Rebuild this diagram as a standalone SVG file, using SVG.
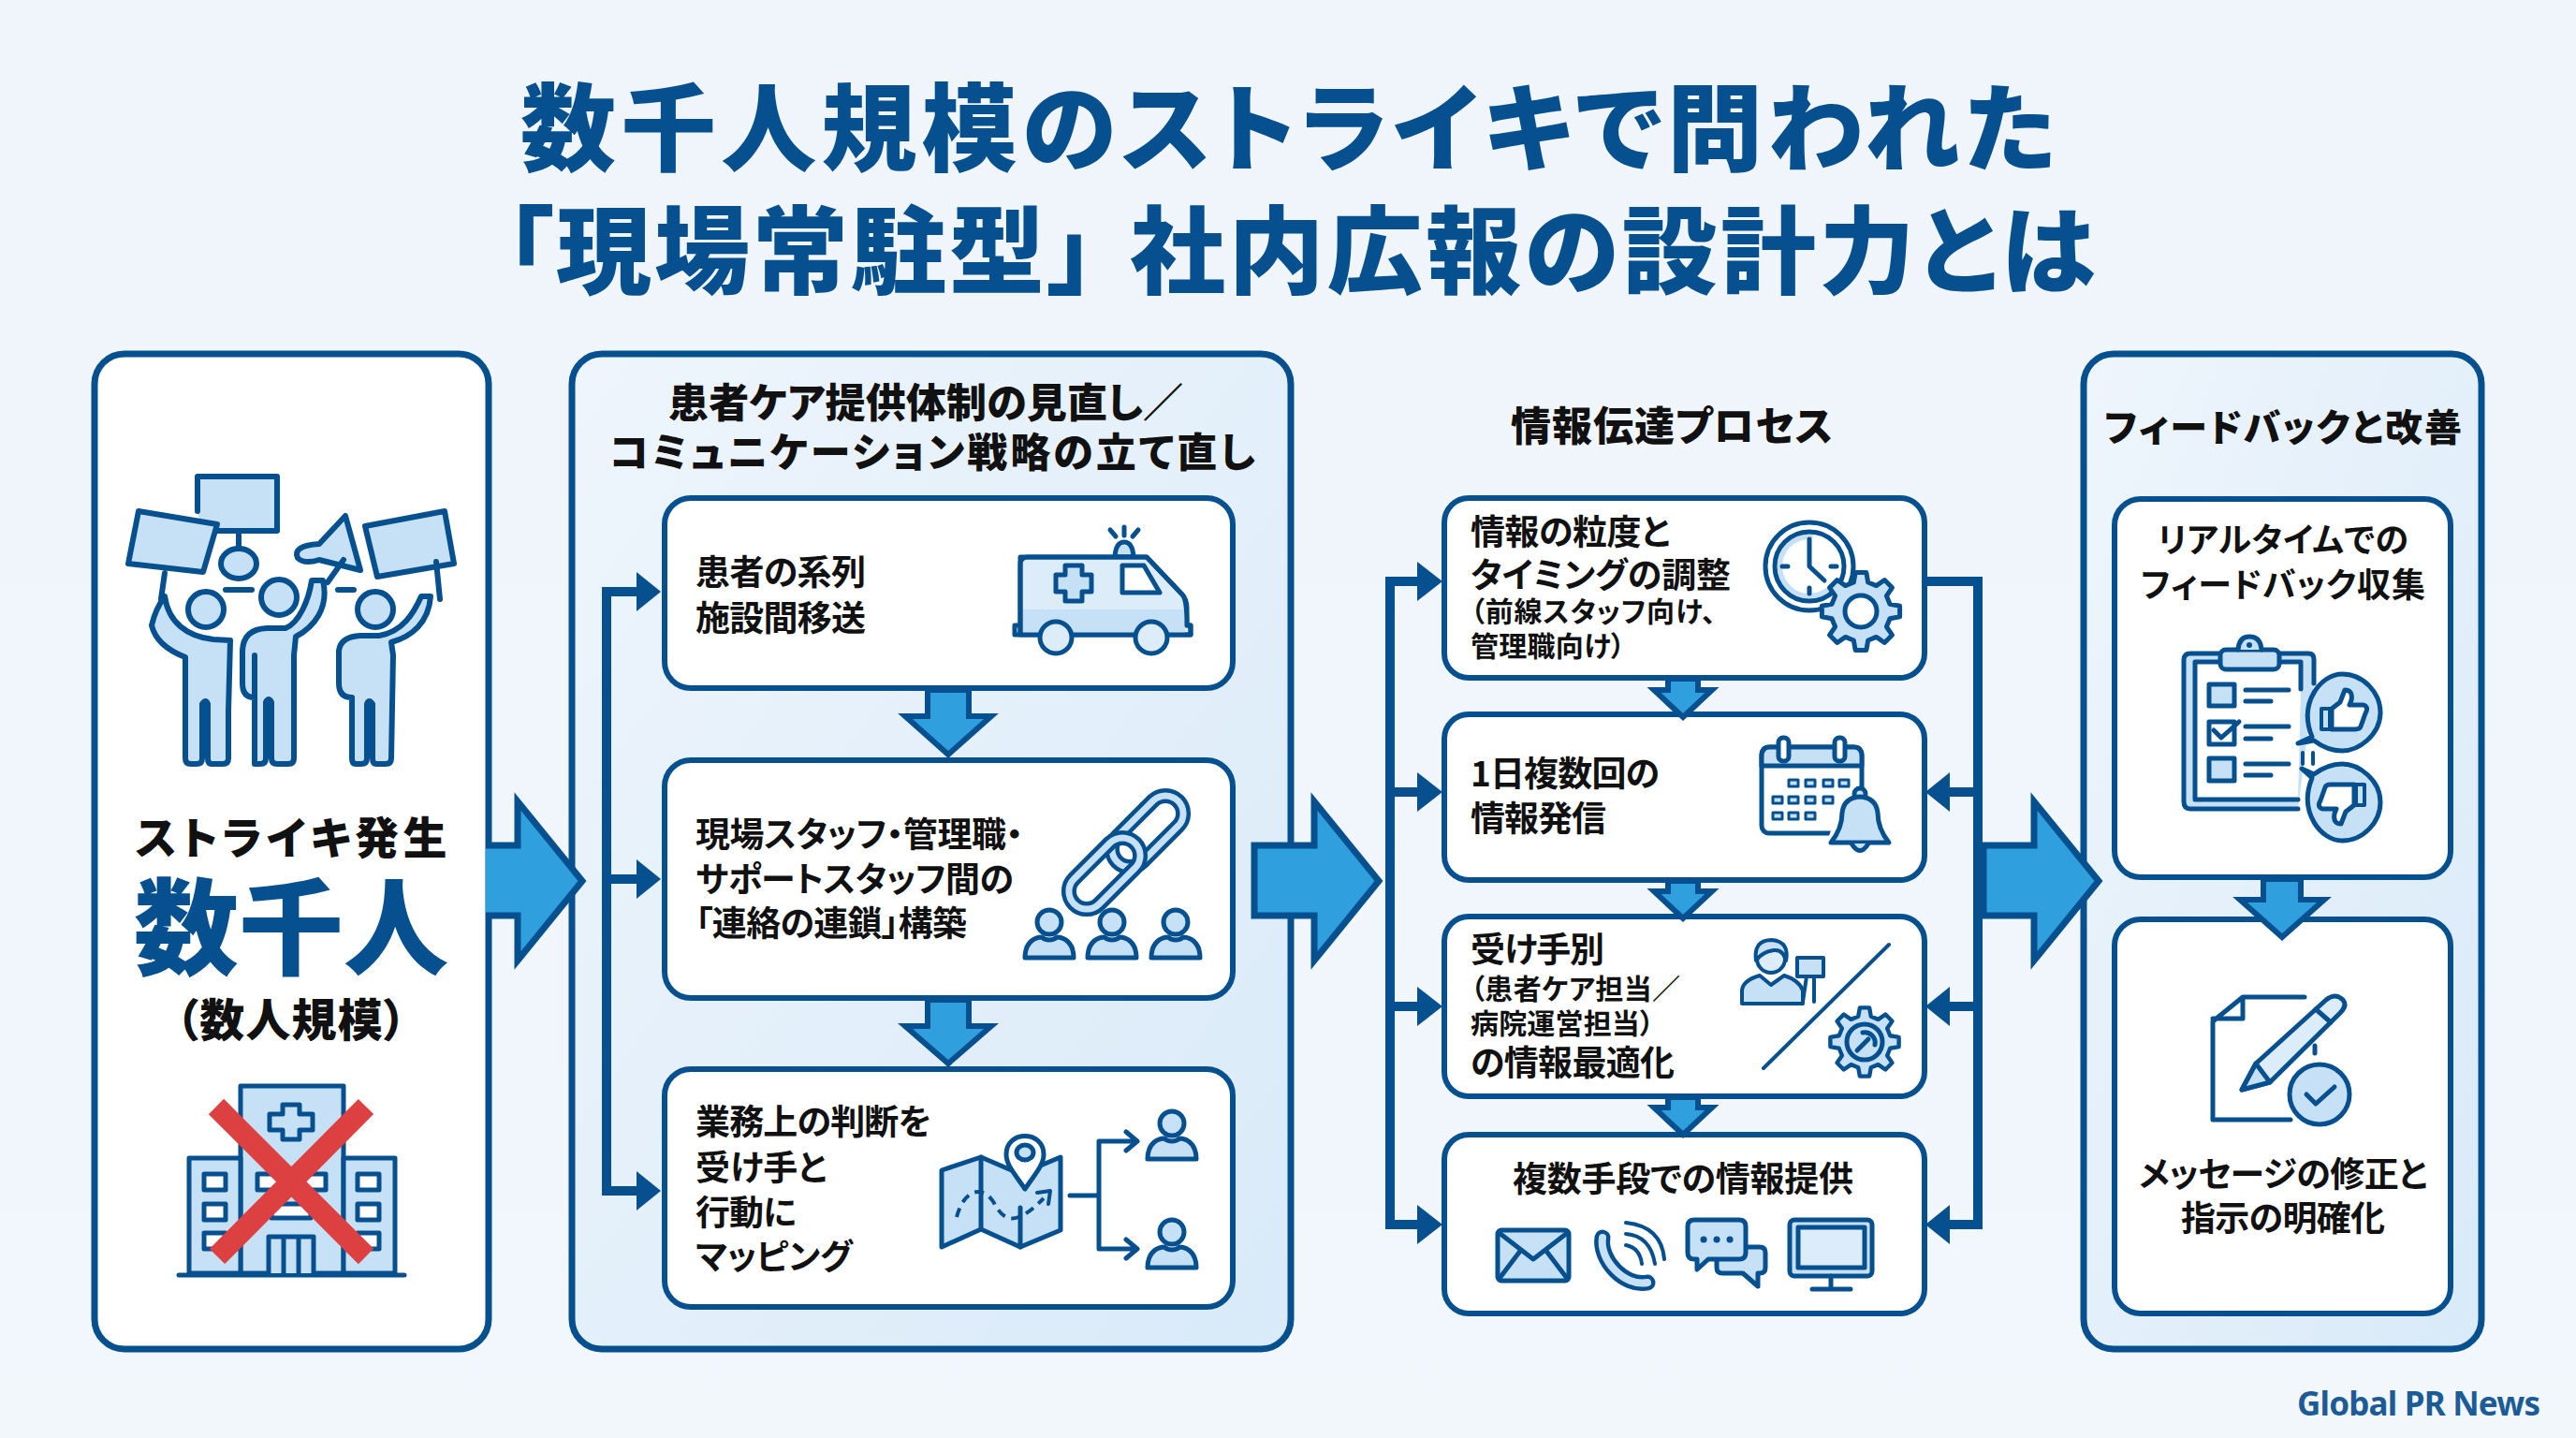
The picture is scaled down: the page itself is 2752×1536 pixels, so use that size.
<svg xmlns="http://www.w3.org/2000/svg" xmlns:xlink="http://www.w3.org/1999/xlink" width="2752" height="1536" viewBox="0 0 2752 1536">
<style>
text{font-family:"Noto Sans CJK JP","Noto Sans",sans-serif;font-weight:700;fill:#111;font-feature-settings:"palt"}
.title{font-size:102px;font-weight:900;fill:#07508f}
.head{font-size:43px;font-weight:900;text-anchor:middle}
.t{font-size:37px}
.s{font-size:30px}
.c{text-anchor:middle}
.panel{stroke:#07508f;stroke-width:7}
.box{fill:#fff;stroke:#07508f;stroke-width:6}
.i{fill:#c6e1f6;stroke:#07508f;stroke-width:5;stroke-linejoin:round;stroke-linecap:round}
.l{fill:none;stroke:#07508f;stroke-width:5;stroke-linejoin:round;stroke-linecap:round}
.w{fill:#fff;stroke:#07508f;stroke-width:5;stroke-linejoin:round}
.d{fill:#07508f;stroke:none}
.big{fill:#2f9fdd;stroke:#07508f;stroke-width:7;stroke-linejoin:miter}
.mini{fill:#2f9fdd;stroke:#07508f;stroke-width:6;stroke-linejoin:miter}
.bus{fill:none;stroke:#07508f;stroke-width:10;stroke-linejoin:miter}
#icon-protest .i,#icon-protest .l{stroke-width:6}
</style>
<defs>
<linearGradient id="bg" x1="0" y1="0" x2="0" y2="1"><stop offset="0" stop-color="#f0f5fb"/><stop offset="1" stop-color="#f2f7fc"/></linearGradient>
<linearGradient id="pf" x1="0" y1="0" x2="1" y2="1"><stop offset="0" stop-color="#eef5fc"/><stop offset="1" stop-color="#d9eaf8"/></linearGradient>
<path id="gear" d="M31,-7.7L41.6,-5.8L41.6,5.8L31,7.7L27.4,16.5L33.5,25.3L25.3,33.5L16.5,27.4L7.7,31L5.8,41.6L-5.8,41.6L-7.7,31L-16.5,27.4L-25.3,33.5L-33.5,25.3L-27.4,16.5L-31,7.7L-41.6,5.8L-41.6,-5.8L-31,-7.7L-27.4,-16.5L-33.5,-25.3L-25.3,-33.5L-16.5,-27.4L-7.7,-31L-5.8,-41.6L5.8,-41.6L7.7,-31L16.5,-27.4L25.3,-33.5L33.5,-25.3L27.4,-16.5Z"/>
<g id="user"><circle cx="0" cy="-14" r="13" class="i"/><path class="i" d="M-26,24C-26,6 -14,2 -8,2C-4,6 4,6 8,2C14,2 26,6 26,24Z"/></g>
<path id="thumb" d="M2491,757L2500,750L2505,737Q2514,737 2512,748L2510,753L2525,753Q2531,755 2527,762L2522,776Q2521,779 2516,779L2491,779Z"/>
</defs>
<rect width="2752" height="1536" fill="url(#bg)"/>
<g id="title">
<text class="title" x="556" y="175" textLength="1640">数千人規模のストライキで問われた</text>
<text class="title" y="306"><tspan x="540" textLength="630">「現場常駐型」</tspan><tspan x="1207" textLength="1031">社内広報の設計力とは</tspan></text>
</g>

<g id="panel-strike">
<rect class="panel" x="101" y="378" width="421" height="1063" rx="32" fill="#fff"/>
<g id="icon-protest">
<path class="i" d="M211,546V509H296V567H215"/>
<path class="i" d="M148,546L232,560L217,611L137,602Z"/>
<path class="i" d="M390,562L475,546L485,602L403,616Z"/>
<path class="l" d="M255,567V583"/>
<ellipse class="i" cx="255" cy="602" rx="19" ry="16"/>
<path class="l" d="M241,630H269M361,630H378"/>
<path class="i" d="M341,581L369,551L385,609L341,598Q325,603 318,596Q312,583 341,581Z"/>
<path class="l" d="M176,612L172,640M367,598L350,622M466,600L470,640"/>
<circle class="i" cx="220" cy="651" r="19"/>
<circle class="i" cx="298" cy="638" r="19"/>
<circle class="i" cx="401" cy="651" r="19"/>
<path class="i" d="M176,637C180,665 200,680 228,683L246,684L244,760V810Q244,816 238,816H226Q222,816 222,810V752Q220,746 216,752V810Q216,816 210,816H204Q198,816 198,810V702C180,695 166,685 162,668C165,655 170,645 176,637Z"/>
<path class="i" d="M345,620C352,650 335,670 316,680L314,700V810Q314,816 308,816H296Q290,816 290,810V750Q287,744 284,750V810Q284,816 278,816H272Q272,816 272,810V700L272,745Q259,745 259,730V695Q260,672 285,671L305,671C320,665 330,640 333,620Z"/>
<path class="i" d="M460,637C458,665 440,680 418,686L420,700L418,810Q418,816 412,816H402Q398,816 398,810V752Q394,746 392,752V810Q392,816 386,816H380Q376,816 376,810V745Q362,745 362,730V695Q364,680 385,679L405,679C430,675 442,655 450,637Z"/>
</g>
<text class="c" x="311" y="912" font-size="47" textLength="333" style="font-weight:900">ストライキ発生</text>
<text class="c" x="311" y="1033" font-size="112" textLength="336" style="font-weight:900;fill:#07508f">数千人</text>
<text class="c" x="311" y="1107" font-size="48" textLength="246" style="font-weight:900">（数人規模）</text>
<g id="icon-hospital">
<rect class="i" x="257" y="1160" width="110" height="200"/>
<rect class="i" x="202" y="1237" width="55" height="123"/>
<rect class="i" x="367" y="1237" width="55" height="123"/>
<path class="l" d="M191,1362H432"/>
<path class="w" style="fill:#c6e1f6" d="M302,1180H320V1190H334V1207H320V1217H302V1207H288V1190H302Z"/>
<g class="w" style="fill:#fff"><rect x="218" y="1254" width="23" height="17"/><rect x="218" y="1286" width="23" height="17"/><rect x="218" y="1317" width="23" height="17"/><rect x="382" y="1254" width="23" height="17"/><rect x="382" y="1286" width="23" height="17"/><rect x="382" y="1317" width="23" height="17"/><rect x="275" y="1254" width="30" height="17"/><rect x="318" y="1254" width="30" height="17"/><rect x="290" y="1286" width="42" height="15"/></g>
<path class="i" d="M287,1360V1321H335V1360M303,1321V1360M319,1321V1360"/>
<path d="M231,1182L391,1342M391,1182L232,1342" fill="none" stroke="#dd4040" stroke-width="23"/>
</g>
</g>

<g id="panel-care">
<rect class="panel" x="611" y="378" width="768" height="1063" rx="32" fill="url(#pf)"/>
<text class="head" x="989" y="446" textLength="550">患者ケア提供体制の見直し／</text>
<text class="head" x="996" y="499" textLength="690">コミュニケーション戦略の立て直し</text>
<g id="box-transfer"><rect class="box" x="710" y="532" width="607" height="203" rx="28"/>
<text class="t" x="743" y="625" textLength="182">患者の系列</text>
<text class="t" x="743" y="674" textLength="182">施設間移送</text>
<g id="icon-ambulance">
<path class="l" d="M1201,563V572M1186,566L1192,573M1216,566L1210,573"/>
<path class="i" d="M1191,595Q1192,579 1201,579Q1210,579 1211,595Z"/>
<path class="i" style="fill:#dcecf9" d="M1090,678V603Q1090,595 1098,595H1225L1263,635Q1268,640 1268,650V668H1272V678Z"/>
<path d="M1093,651H1266V676H1093Z" fill="#c6e1f6"/>
<path class="l" d="M1090,678H1084V668H1090M1090,595H1225L1263,635Q1268,640 1268,668H1272V678H1090V595"/>
<path class="w" d="M1199,604H1222L1239,633H1199Z"/>
<path class="i" d="M1138,604H1156V614H1166V632H1156V642H1138V632H1128V614H1138Z"/>
<circle class="i" cx="1128" cy="681" r="17" style="fill:#dcecf9"/><circle class="i" cx="1230" cy="681" r="17" style="fill:#dcecf9"/>
</g></g>
<g id="box-chain"><rect class="box" x="710" y="812" width="607" height="254" rx="28"/>
<text class="t" x="743" y="905" textLength="350">現場スタッフ・管理職・</text>
<text class="t" x="743" y="953" textLength="340">サポートスタッフ間の</text>
<text class="t" x="743" y="1000" textLength="290">「連絡の連鎖」構築</text>
<g id="icon-chain" fill="none">
<g transform="rotate(-45 1226 888)"><rect x="1180" y="869" width="92" height="38" rx="19" stroke="#07508f" stroke-width="16"/><rect x="1180" y="869" width="92" height="38" rx="19" stroke="#c6e1f6" stroke-width="7"/></g>
<g transform="rotate(-45 1180 933)"><rect x="1134" y="914" width="92" height="38" rx="19" stroke="#07508f" stroke-width="16"/><rect x="1134" y="914" width="92" height="38" rx="19" stroke="#c6e1f6" stroke-width="7"/></g>
</g>
<use xlink:href="#user" href="#user" x="1121" y="999"/><use xlink:href="#user" href="#user" x="1188" y="999"/><use xlink:href="#user" href="#user" x="1256" y="999"/>
</g>
<g id="box-map"><rect class="box" x="710" y="1142" width="607" height="254" rx="28"/>
<text class="t" x="743" y="1212" textLength="252">業務上の判断を</text>
<text class="t" x="743" y="1261" textLength="140">受け手と</text>
<text class="t" x="743" y="1309" textLength="108">行動に</text>
<text class="t" x="743" y="1356" textLength="168">マッピング</text>
<g id="icon-map">
<path class="i" d="M1006,1250L1048,1236L1090,1254L1133,1236V1314L1090,1332L1048,1313L1006,1332Z"/>
<path class="l" d="M1048,1236V1313M1090,1290V1332"/>
<path d="M1022,1300C1030,1270 1050,1265 1062,1285C1075,1310 1090,1305 1115,1280" fill="none" stroke="#07508f" stroke-width="4" stroke-dasharray="10 7"/>
<path class="l" d="M1108,1274L1122,1272L1120,1286" style="stroke-width:4"/>
<path class="i" d="M1095,1270C1085,1255 1075,1245 1075,1233C1075,1207 1115,1207 1115,1233C1115,1245 1105,1255 1095,1270Z" style="fill:#fff"/>
<ellipse class="i" cx="1095" cy="1231" rx="9" ry="8"/>
<path class="l" d="M1143,1277H1174M1215,1219H1174V1334H1215M1203,1209L1215,1219L1203,1229M1203,1324L1215,1334L1203,1344"/>
<use xlink:href="#user" href="#user" x="1252" y="1214"/><use xlink:href="#user" href="#user" x="1252" y="1330"/>
</g></g>
</g>

<g id="panel-process">
<text class="head" x="1786" y="471" textLength="344">情報伝達プロセス</text>
<g id="box-timing"><rect class="box" x="1543" y="532" width="513" height="192" rx="26"/>
<text class="t" x="1571" y="582" textLength="213">情報の粒度と</text>
<text class="t" x="1571" y="628" textLength="278">タイミングの調整</text>
<text class="s" x="1571" y="664" textLength="262">（前線スタッフ向け、</text>
<text class="s" x="1571" y="701" textLength="165">管理職向け）</text>
<g id="icon-clock">
<circle class="l" cx="1933" cy="605" r="47" style="fill:#fff"/><path class="l" d="M1933,572A33,33 0 1 0 1960,624" style="stroke:#c6e1f6;stroke-width:8"/><circle class="l" cx="1933" cy="605" r="37"/>
<path class="l" d="M1933,576V582M1933,628V634M1904,605H1910M1956,605H1962M1933,582V605L1949,620"/>
<use xlink:href="#gear" href="#gear" x="1988" y="653" class="i" style="stroke-width:5"/><circle class="w" cx="1988" cy="653" r="17"/>
</g></g>
<g id="box-daily"><rect class="box" x="1543" y="763" width="513" height="177" rx="26"/>
<text class="t" x="1571" y="840" textLength="202">1日複数回の</text>
<text class="t" x="1571" y="888" textLength="145">情報発信</text>
<g id="icon-calendar">
<rect class="l" x="1882" y="798" width="107" height="92" rx="8" style="fill:#fff"/>
<path class="i" d="M1882,808Q1882,798 1890,798H1981Q1989,798 1989,808V818H1882Z"/>
<rect class="w" x="1900" y="788" width="11" height="25" rx="5"/><rect class="w" x="1960" y="788" width="11" height="25" rx="5"/>
<g class="i" style="stroke-width:3"><rect x="1911" y="833" width="10" height="7"/><rect x="1929" y="833" width="10" height="7"/><rect x="1948" y="833" width="10" height="7"/><rect x="1965" y="833" width="10" height="7"/><rect x="1894" y="851" width="10" height="7"/><rect x="1911" y="851" width="10" height="7"/><rect x="1929" y="851" width="10" height="7"/><rect x="1948" y="851" width="10" height="7"/><rect x="1894" y="868" width="10" height="7"/><rect x="1911" y="868" width="10" height="7"/><rect x="1929" y="868" width="10" height="7"/></g>
<path d="M1950,905L1965,860Q1985,835 2010,860L2025,905Z" fill="#fff"/>
<circle class="i" cx="1987" cy="848" r="6"/>
<path class="i" d="M1956,900Q1968,885 1968,868Q1970,852 1987,851Q2004,852 2006,868Q2006,885 2018,900Z"/>
<path class="i" d="M1978,901Q1987,916 1996,901"/>
</g></g>
<g id="box-audience"><rect class="box" x="1543" y="979" width="513" height="192" rx="26"/>
<text class="t" x="1571" y="1028" textLength="143">受け手別</text>
<text class="s" x="1571" y="1067" textLength="224">（患者ケア担当／</text>
<text class="s" x="1571" y="1104" textLength="196">病院運営担当）</text>
<text class="t" x="1571" y="1149" textLength="218">の情報最適化</text>
<g id="icon-staff">
<path class="i" d="M1861,1072V1058Q1862,1047 1880,1042L1892,1052L1906,1042Q1922,1047 1926,1058V1072Z" style="stroke-width:4"/>
<circle class="i" cx="1892" cy="1024" r="15" style="fill:#dcecf9;stroke-width:4"/>
<path class="i" style="stroke-width:4" d="M1876,1026Q1873,1004 1893,1004Q1912,1006 1908,1026Q1905,1014 1895,1015Q1882,1017 1876,1026Z"/>
<rect class="i" x="1920" y="1023" width="28" height="20" style="stroke-width:4"/><path class="l" d="M1930,1043L1926,1070M1938,1043V1070" style="stroke-width:4"/>
<path class="l" d="M2018,1009L1884,1141" style="stroke-width:4"/>
<use xlink:href="#gear" href="#gear" transform="translate(1992 1113) scale(.88)" class="i" style="stroke-width:5"/>
<circle class="l" cx="1992" cy="1113" r="19"/>
<path class="l" d="M1984,1122L1996,1110M1990,1103A11,11 0 0 1 2003,1116" style="stroke-width:5"/>
</g></g>
<g id="box-channels"><rect class="box" x="1543" y="1212" width="513" height="191" rx="26"/>
<text class="t c" x="1798" y="1273" textLength="364">複数手段での情報提供</text>
<g id="icon-mail"><rect class="i" x="1600" y="1314" width="76" height="54" rx="4"/><path class="l" d="M1603,1318L1638,1345L1673,1318M1603,1364L1625,1335M1673,1364L1651,1335"/></g>
<g id="icon-phone" fill="none"><path d="M1712,1322C1708,1345 1735,1375 1760,1370" stroke="#07508f" stroke-width="17" stroke-linecap="round"/><path d="M1712,1322C1708,1345 1735,1375 1760,1370" stroke="#c6e1f6" stroke-width="8" stroke-linecap="round"/><path class="l" d="M1737,1330Q1752,1333 1754,1350M1737,1318Q1763,1320 1768,1350M1737,1306Q1775,1310 1778,1345" style="stroke-width:4"/></g>
<g id="icon-chat"><path class="i" d="M1850,1332H1880Q1886,1332 1886,1338V1354Q1886,1360 1880,1360H1878V1374L1862,1360H1840Q1834,1360 1834,1354V1345Z"/><path class="i" d="M1810,1303H1858Q1865,1303 1865,1310V1338Q1865,1345 1858,1345H1825L1813,1356V1345H1810Q1803,1345 1803,1338V1310Q1803,1303 1810,1303Z"/><path d="M1820,1324h.1M1834,1324h.1M1848,1324h.1" stroke="#07508f" stroke-width="7" stroke-linecap="round"/></g>
<g id="icon-monitor"><rect class="i" x="1912" y="1303" width="88" height="60" rx="5"/><rect class="l" x="1921" y="1311" width="71" height="43" style="fill:#dcecf9"/><path class="l" d="M1956,1363V1376M1936,1377H1977"/></g>
</g>
</g>

<g id="panel-feedback">
<rect class="panel" x="2226" y="378" width="425" height="1063" rx="32" fill="url(#pf)"/>
<text class="head" x="2439" y="471" style="font-size:40px" textLength="382">フィードバックと改善</text>
<g id="box-collect"><rect class="box" x="2259" y="533" width="359" height="404" rx="28"/>
<text class="t c" x="2439" y="590" style="font-size:36px" textLength="268">リアルタイムでの</text>
<text class="t c" x="2439" y="638" style="font-size:36px" textLength="304">フィードバック収集</text>
<g id="icon-clipboard">
<path class="i" d="M2472,730V704Q2472,698 2466,698H2340Q2333,698 2333,705V856Q2333,864 2340,864H2455"/>
<path class="l" d="M2458,736V707H2345V854H2455" style="fill:#fff"/>
<rect class="i" x="2372" y="694" width="63" height="21" rx="6"/><path class="i" d="M2391,694Q2392,680 2403,680Q2415,680 2416,694"/><circle class="d" cx="2403" cy="689" r="3"/>
<g class="i"><rect x="2360" y="731" width="27" height="23"/><rect x="2360" y="771" width="27" height="24" style="fill:#fff"/><rect x="2360" y="810" width="27" height="24"/></g>
<path class="l" d="M2365,780L2373,788L2392,771"/>
<path class="l" d="M2399,737H2445M2399,749H2426M2399,776H2445M2399,789H2426M2399,816H2445M2399,828H2426"/>
<path class="l" d="M2460,804V816M2471,804V816" style="stroke-width:4"/>
<path class="i" d="M2470,787C2455,750 2480,720 2502,720C2525,720 2543,740 2543,761C2543,785 2520,802 2502,802C2490,802 2480,797 2472,791L2455,794Z"/>
<path class="i" d="M2470,831C2455,868 2480,898 2502,898C2525,898 2543,878 2543,857C2543,833 2520,816 2502,816C2490,816 2480,821 2472,827L2459,821Z"/>
<use xlink:href="#thumb" href="#thumb" class="w"/><rect class="i" x="2480" y="757" width="9" height="22" style="stroke-width:4"/>
<use xlink:href="#thumb" href="#thumb" class="w" transform="translate(0 103) rotate(180 2503 757)"/><rect class="i" x="2517" y="838" width="9" height="22" style="stroke-width:4"/>
</g></g>
<g id="box-refine"><rect class="box" x="2259" y="982" width="359" height="421" rx="28"/>
<g id="icon-edit">
<path class="l" d="M2462,1065H2396L2364,1091V1196H2447M2396,1065V1088H2364"/>
<path class="i" style="fill:#dcecf9" d="M2395,1164L2410,1136L2485,1068Q2495,1060 2503,1068Q2508,1074 2500,1082L2425,1156Z"/>
<path class="i" d="M2395,1164L2410,1136L2425,1156Z"/>
<path class="l" d="M2473,1117V1125M2474,1078L2490,1092"/>
<circle class="i" cx="2478" cy="1169" r="32"/>
<path class="l" d="M2464,1169L2474,1179L2494,1161"/>
</g>
<text class="t c" x="2439" y="1268" textLength="308">メッセージの修正と</text>
<text class="t c" x="2439" y="1315" textLength="218">指示の明確化</text>
</g></g>

<g id="connectors">
<path class="big" d="M519,903H553V856L622,941L553,1026V978H519"/>
<polygon class="big" points="1340,903 1404,903 1404,856 1473,941 1404,1026 1404,978 1340,978"/>
<polygon class="big" points="2119,903 2173,903 2173,856 2242,941 2173,1026 2173,978 2119,978"/>
<polygon class="mini" points="991,737 1035,737 1035,765 1059,765 1013,806 967,765 991,765"/>
<polygon class="mini" points="991,1068 1035,1068 1035,1096 1059,1096 1013,1136 967,1096 991,1096"/>
<polygon class="mini" points="1782,725 1814,725 1814,737 1829,737 1798,766 1767,737 1782,737"/>
<polygon class="mini" points="1782,941 1814,941 1814,952 1829,952 1798,981 1767,952 1782,952"/>
<polygon class="mini" points="1782,1172 1814,1172 1814,1183 1829,1183 1798,1212 1767,1183 1782,1183"/>
<polygon class="mini" points="2418,939 2458,939 2458,961 2483,961 2438,1001 2393,961 2418,961"/>
<path class="bus" d="M680,632H648V1272H680M648,939H680"/>
<g class="d"><polygon points="680,611 706,632 680,653"/><polygon points="680,918 706,939 680,960"/><polygon points="680,1251 706,1272 680,1293"/></g>
<path class="bus" d="M1514,621H1485V1308H1514M1485,846H1514M1485,1075H1514"/>
<g class="d"><polygon points="1514,600 1541,621 1514,642"/><polygon points="1514,825 1541,846 1514,867"/><polygon points="1514,1054 1541,1075 1514,1096"/><polygon points="1514,1287 1541,1308 1514,1329"/></g>
<path class="bus" d="M2057,621H2113V1308H2083M2113,846H2083M2113,1075H2083"/>
<g class="d"><polygon points="2083,825 2057,846 2083,867"/><polygon points="2083,1054 2057,1075 2083,1096"/><polygon points="2083,1287 2057,1308 2083,1329"/></g>
</g>
<text id="credit" x="2454" y="1512" style="font-family:'Noto Sans',sans-serif;font-size:35px;fill:#1d5b97" textLength="260">Global PR News</text>
</svg>
